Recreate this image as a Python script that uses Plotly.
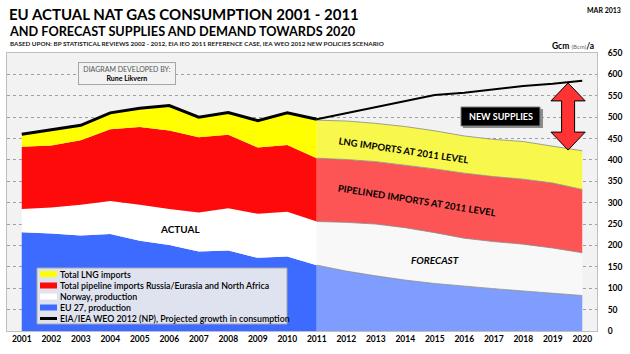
import plotly.graph_objects as go

# ---------------- data ----------------
years_actual = [2001, 2002, 2003, 2004, 2005, 2006, 2007, 2008, 2009, 2010, 2011]
eu_prod_actual = [231, 228, 223, 227, 211, 201, 186, 188, 171, 174, 154]
norway_actual = [54, 61, 72, 77, 84, 84, 91, 99, 103, 105, 102]
pipeline_actual = [146, 145, 151, 168, 182, 184, 176, 172, 155, 156, 148]
lng_actual = [29, 36, 35, 38, 44, 58, 47, 52, 63, 75, 91]
consumption_actual = [460, 470, 481, 510, 521, 527, 500, 511, 492, 510, 495]

years_fc = [2011, 2012, 2013, 2014, 2015, 2016, 2017, 2018, 2019, 2020]
eu_prod_fc = [154, 140, 129, 119, 111, 104.5, 99, 93.5, 89, 83]
norway_fc = [102, 114, 121, 122.5, 119, 112.5, 110, 109.5, 105, 100]
pipeline_fc = [148, 147, 146, 146.5, 149, 152, 152, 152, 152, 148]
lng_fc = [89, 90, 89.5, 90, 89, 87, 87, 88, 86, 90.5]
consumption_fc = [495, 509, 523, 538, 552, 557, 565, 573, 578, 585]

x_ticks = list(range(2001, 2021))
y_ticks = list(range(0, 651, 50))

legend_labels = [
    "Total LNG imports",
    "Total pipeline imports Russia/Eurasia and North Africa",
    "Norway, production",
    "EU 27, production",
    "EIA/IEA WEO 2012 (NP), Projected growth in consumption",
]

# ---------------- styles ----------------
FONT = "Lato"
C_ACT = {"eu": "#3d6bff", "no": "#ffffff", "pi": "#ff0a0a", "lng": "#ffff00"}
C_FC = {"eu": "#7f9dff", "no": "#f8f8f8", "pi": "#fd5555", "lng": "#f7f74c"}

# plot area in pixels
PL, PR, PT, PB = 7, 597, 53, 331
def px2paper(px, py):
    return (px - PL) / (PR - PL), (PB - py) / (PB - PT)

fig = go.Figure()

series = [
    (legend_labels[3], "eu", eu_prod_actual, eu_prod_fc),
    (legend_labels[2], "no", norway_actual, norway_fc),
    (legend_labels[1], "pi", pipeline_actual, pipeline_fc),
    (legend_labels[0], "lng", lng_actual, lng_fc),
]

for name, key, act, fc in series:
    fig.add_trace(go.Scatter(
        x=years_actual, y=act, name=name, stackgroup="act", mode="lines",
        line=dict(width=0, color=C_ACT[key]), fillcolor=C_ACT[key],
        showlegend=False, hoverinfo="skip"))

for name, key, act, fc in series:
    fig.add_trace(go.Scatter(
        x=years_fc, y=fc, name=name, stackgroup="fc", mode="lines",
        line=dict(width=0.8, color="#8a8a8a"), fillcolor=C_FC[key],
        showlegend=False, hoverinfo="skip"))

fig.add_trace(go.Scatter(
    x=years_actual, y=consumption_actual, mode="lines", name=legend_labels[4],
    line=dict(color="#000000", width=3), showlegend=False, hoverinfo="skip"))
fig.add_trace(go.Scatter(
    x=years_fc, y=consumption_fc, mode="lines", showlegend=False,
    line=dict(color="#000000", width=2), hoverinfo="skip"))

# ---------------- decorations ----------------
ann = []
shapes = []

def pa(px, py, text, size, color="#000", bold=True, xanchor="left", **kw):
    x, y = px2paper(px, py)
    ann.append(dict(
        xref="paper", yref="paper", x=x, y=y,
        text=text, showarrow=False, xanchor=xanchor, yanchor="middle",
        font=dict(family=FONT, size=size, color=color, weight="bold" if bold else "normal"),
        **kw))

def prect(x0, y0, x1, y1, fill, line_color=None, lw=0):
    a0, b0 = px2paper(x0, y1)
    a1, b1 = px2paper(x1, y0)
    shapes.append(dict(type="rect", xref="paper", yref="paper", x0=a0, x1=a1, y0=b0, y1=b1,
                       fillcolor=fill, line=dict(width=lw, color=line_color or fill),
                       layer="above"))

pa(7, 14, "EU ACTUAL NAT GAS CONSUMPTION 2001 - 2011", 15)
pa(7, 31, "AND FORECAST SUPPLIES AND DEMAND TOWARDS 2020", 12.7)
pa(8, 44, "BASED UPON: BP STATISTICAL REVIEWS 2002 - 2012, EIA IEO 2011 REFERENCE CASE, IEA WEO 2012 NEW POLICIES SCENARIO", 6.3, color="#222")
pa(623, 10, "MAR 2013", 7, xanchor="right")
pa(596, 46, "Gcm <span style='font-size:6px;color:#666;font-weight:normal'>(Bcm)</span>/a", 8.5, xanchor="right")

# Diagram developed by box
bx, by = px2paper(126.5, 73.5)
ann.append(dict(
    xref="paper", yref="paper", x=bx, y=by,
    text="<span style='color:#555'>DIAGRAM DEVELOPED BY:</span><br><b>Rune Likvern</b>",
    showarrow=False, xanchor="center", yanchor="middle",
    font=dict(family=FONT, size=7, color="#000"),
    bgcolor="#f2f2f2", bordercolor="#a6a6a6", borderwidth=1, borderpad=2,
    width=92, align="center"))

# In-plot labels (data coordinates)
ann.append(dict(x=2006.37, y=238, text="ACTUAL", showarrow=False,
                font=dict(family=FONT, size=10, color="#000", weight="bold")))
ann.append(dict(x=2015.0, y=166, text="<i>FORECAST</i>", showarrow=False,
                font=dict(family=FONT, size=10, color="#000", weight="bold")))
ann.append(dict(x=2013.95, y=422, text="LNG IMPORTS AT 2011 LEVEL", showarrow=False,
                textangle=8.5, font=dict(family=FONT, size=9.5, color="#000", weight="bold")))
ann.append(dict(x=2014.4, y=305, text="PIPELINED IMPORTS AT 2011 LEVEL", showarrow=False,
                textangle=9, font=dict(family=FONT, size=9.5, color="#000", weight="bold")))

# NEW SUPPLIES box with shadow
prect(463, 109, 543, 128, "#8c8c8c")
prect(461, 107, 540, 126, "#000000", "#7f7f7f", 1)
pa(500.5, 116.5, "NEW SUPPLIES", 9, color="#ffffff", xanchor="center")

# red double arrow
xc, top, bot = 2019.52, 580, 423
hw, sw, hh = 0.58, 0.22, 42
path = (f"M {xc},{top} L {xc+hw},{top-hh} L {xc+sw},{top-hh} L {xc+sw},{bot+hh} "
        f"L {xc+hw},{bot+hh} L {xc},{bot} L {xc-hw},{bot+hh} L {xc-sw},{bot+hh} "
        f"L {xc-sw},{top-hh} L {xc-hw},{top-hh} Z")
shapes.append(dict(type="path", path=path, xref="x", yref="y", fillcolor="#ff3333",
                   line=dict(color="#000000", width=1), layer="above"))

# custom legend
prect(37, 268, 287, 324, "#dfe3f0", "#a6a6a6", 1)
leg_colors = [C_ACT["lng"], C_ACT["pi"], C_ACT["no"], C_ACT["eu"]]
leg_y = [274, 285.5, 296.5, 307.5, 318.5]
for i, lab in enumerate(legend_labels):
    yy = leg_y[i]
    if i < 4:
        prect(40, yy - 3, 57, yy + 3, leg_colors[i])
    else:
        x0, y0 = px2paper(40, yy)
        x1, _ = px2paper(57, yy)
        shapes.append(dict(type="line", xref="paper", yref="paper", x0=x0, x1=x1, y0=y0, y1=y0,
                           line=dict(color="#000000", width=3), layer="above"))
    x, y = px2paper(57.5, yy)
    ann.append(dict(xref="paper", yref="paper", x=x, y=y, text=lab, showarrow=False,
                    xanchor="left", yanchor="middle",
                    font=dict(family=FONT, size=8.8, color="#000", weight=600)))

fig.update_layout(
    width=630, height=354,
    margin=dict(l=PL, r=630 - PR, t=PT, b=354 - PB, autoexpand=False),
    paper_bgcolor="#ffffff", plot_bgcolor="#f2f2f2",
    font=dict(family=FONT, size=9, color="#000"),
    showlegend=False,
    annotations=ann, shapes=shapes,
    xaxis=dict(range=[2000.5, 2020.5], tickmode="array", tickvals=x_ticks,
               showgrid=False, zeroline=False, showline=True, linecolor="#bfbfbf",
               mirror=True, ticks="", tickfont=dict(family=FONT, size=8.5, weight="bold")),
    yaxis=dict(range=[0, 650], tickmode="array", tickvals=y_ticks, side="right",
               showgrid=True, gridcolor="#a0a0a0", griddash="dot", gridwidth=1,
               zeroline=False, showline=True, linecolor="#bfbfbf", mirror=True,
               ticks="", ticklabelstandoff=8,
               tickfont=dict(family=FONT, size=8.5, weight="bold")),
)

fig.write_html("out.html")
